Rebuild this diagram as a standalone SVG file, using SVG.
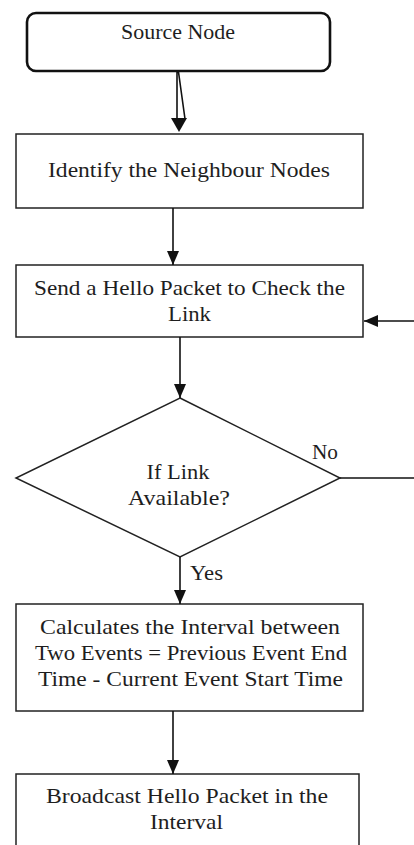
<svg xmlns="http://www.w3.org/2000/svg" width="414" height="845" viewBox="0 0 414 845">
<style>
.box{fill:#fff;stroke:#222;stroke-width:1.5}
.term{fill:#fff;stroke:#111;stroke-width:2.6}
.t{font-family:'Liberation Serif','Times New Roman',serif;font-size:22px;fill:#1e1e1e;text-anchor:middle}
.tl{font-family:'Liberation Serif','Times New Roman',serif;font-size:22px;fill:#1e1e1e}
.c{fill:none;stroke:#111;stroke-width:1.6}
</style>
<defs>
<marker id="ah" markerUnits="userSpaceOnUse" markerWidth="14" markerHeight="12" refX="14" refY="6" orient="auto">
<path d="M0,0 L14,6 L0,12 z" fill="#111"/>
</marker>
</defs>
<rect width="414" height="845" fill="#fff"/>
<g id="source">
<rect class="term" x="27" y="13" width="303" height="58" rx="9"/>
<text class="t" style="font-size:21px" x="178" y="39" textLength="114" lengthAdjust="spacingAndGlyphs">Source Node</text>
</g>
<g id="identify">
<rect class="box" x="16" y="134" width="347" height="74"/>
<text class="t" x="189" y="177" textLength="282" lengthAdjust="spacingAndGlyphs">Identify the Neighbour Nodes</text>
</g>
<g id="send">
<rect class="box" x="16" y="265" width="347" height="72"/>
<text class="t" x="189.5" y="295" textLength="311" lengthAdjust="spacingAndGlyphs">Send a Hello Packet to Check the</text>
<text class="t" x="189.5" y="321" textLength="43" lengthAdjust="spacingAndGlyphs">Link</text>
</g>
<g id="decision">
<polygon class="box" points="180,398 340,478 180,557 16,478"/>
<text class="t" x="178" y="479" textLength="63" lengthAdjust="spacingAndGlyphs">If Link</text>
<text class="t" x="179" y="505" textLength="102" lengthAdjust="spacingAndGlyphs">Available?</text>
</g>
<g id="calculate">
<rect class="box" x="16" y="604" width="347" height="107"/>
<text class="t" x="190" y="634" textLength="300" lengthAdjust="spacingAndGlyphs">Calculates the Interval between</text>
<text class="t" x="191" y="660" textLength="312" lengthAdjust="spacingAndGlyphs">Two Events = Previous Event End</text>
<text class="t" x="190.5" y="686" textLength="305" lengthAdjust="spacingAndGlyphs">Time - Current Event Start Time</text>
</g>
<g id="broadcast">
<rect class="box" x="16" y="774" width="343" height="90"/>
<text class="t" x="187" y="803" textLength="282" lengthAdjust="spacingAndGlyphs">Broadcast Hello Packet in the</text>
<text class="t" x="186.5" y="829" textLength="73" lengthAdjust="spacingAndGlyphs">Interval</text>
</g>
<g id="connectors">
<path class="c" d="M177,72 L177,119 M178.5,72 L185,119"/>
<path d="M171,118 L187,118 L179,132 z" fill="#111"/>
<line class="c" x1="173" y1="208" x2="173" y2="265" marker-end="url(#ah)"/>
<line class="c" x1="180" y1="337" x2="180" y2="398" marker-end="url(#ah)"/>
<line class="c" x1="340" y1="478" x2="414" y2="478"/>
<line class="c" x1="414" y1="321" x2="364" y2="321" marker-end="url(#ah)"/>
<line class="c" x1="180" y1="557" x2="180" y2="604" marker-end="url(#ah)"/>
<line class="c" x1="173" y1="711" x2="173" y2="774" marker-end="url(#ah)"/>
<text class="tl" x="312" y="459" textLength="26" lengthAdjust="spacingAndGlyphs">No</text>
<text class="tl" x="190" y="580" textLength="33" lengthAdjust="spacingAndGlyphs">Yes</text>
</g>
</svg>
